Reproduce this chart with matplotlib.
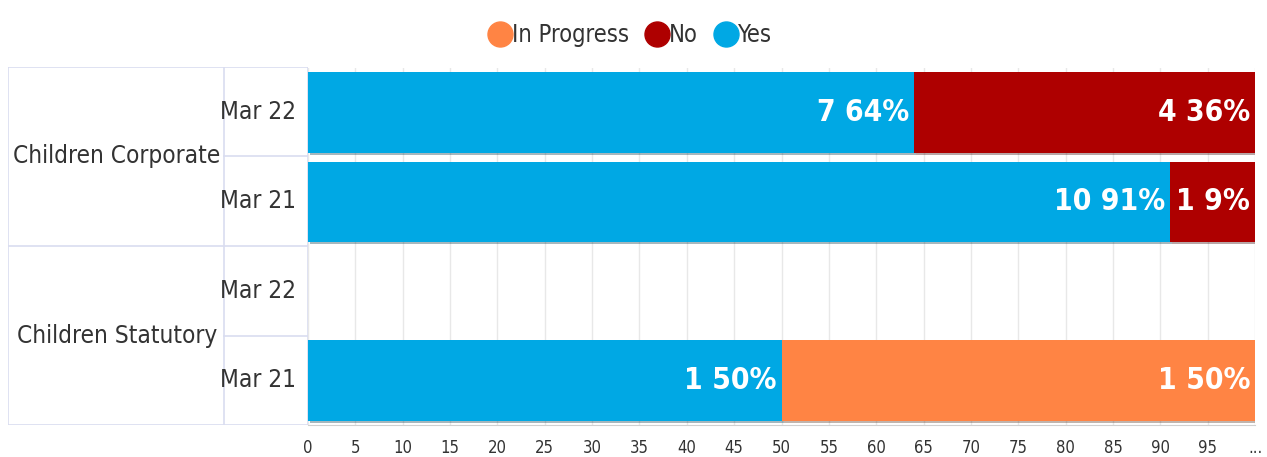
import matplotlib.pyplot as plt
import matplotlib.patheffects as pe
from matplotlib.lines import Line2D
import numpy as np

# Données
groups = ["Children Corporate", "Children Statutory"]
periods = ["Mar 22", "Mar 21", "Mar 22", "Mar 21"]
yes_pct = [64, 91, 0, 50]
yes_cnt = [7, 10, 0, 1]
no_pct = [36, 9, 0, 0]
no_cnt = [4, 1, 0, 0]
prog_pct = [0, 0, 0, 50]
prog_cnt = [0, 0, 0, 1]
xticks = list(range(0, 100, 5))

C_YES = "#00A8E4"
C_NO = "#AE0000"
C_PROG = "#FF8444"
FONT = dict(family="DejaVu Sans", stretch="condensed")

W, H = 1267, 457
fig = plt.figure(figsize=(W / 100, H / 100), dpi=100)
ax = fig.add_axes([308 / W, 1 - 425 / H, 947 / W, 357 / H])

y = np.arange(len(periods))
shadow = [pe.SimplePatchShadow(offset=(1.5, -1.5), alpha=0.35), pe.Normal()]

left = np.zeros(len(periods))
for vals, cnts, col in [(yes_pct, yes_cnt, C_YES), (no_pct, no_cnt, C_NO), (prog_pct, prog_cnt, C_PROG)]:
    bars = ax.barh(y, vals, left=left, height=0.9, color=col, zorder=3)
    for b in bars:
        b.set_path_effects(shadow)
    for i, (v, c) in enumerate(zip(vals, cnts)):
        if v > 0:
            ax.text(left[i] + v - 0.5, y[i], f"{c} {v}%", ha="right", va="center",
                    color="white", fontsize=21.5, fontweight="bold", zorder=4, **FONT)
    left += np.array(vals)

ax.set_xlim(0, 100)
ax.set_ylim(3.5, -0.5)
ax.set_xticks(xticks + [100])
ax.set_xticklabels([str(t) for t in xticks] + ["..."], fontsize=12, color="#333333", **FONT)
ax.set_yticks([])
ax.tick_params(axis="x", length=0, pad=10)
ax.grid(axis="x", color="#e8e8e8", linewidth=1, zorder=0)
for s in ["top", "right", "left"]:
    ax.spines[s].set_visible(False)
ax.spines["bottom"].set_color("#d0d0d0")

# Tableau des catégories à gauche
lab = fig.add_axes([8 / W, 1 - 425 / H, 300 / W, 358 / H])
lab.set_xlim(0, 300)
lab.set_ylim(3.5, -0.5)
lab.axis("off")
lc = "#d9ddf0"
lab.add_patch(plt.Rectangle((0, -0.5), 300, 4, fill=False, edgecolor=lc, lw=1.2))
lab.plot([216, 216], [-0.5, 3.5], color=lc, lw=1.2)
lab.plot([0, 300], [1.5, 1.5], color=lc, lw=1.2)
for yy in [0.5, 2.5]:
    lab.plot([216, 300], [yy, yy], color=lc, lw=1.2)
for i, g in enumerate(groups):
    lab.text(109, 0.5 + 2 * i, g, ha="center", va="center", fontsize=17.5, color="#333333", **FONT)
for i, p in enumerate(periods):
    lab.text(288, i, p, ha="right", va="center", fontsize=17.5, color="#333333", **FONT)

# Légende
handles = [Line2D([], [], marker="o", ls="", markersize=18, color=c) for c in [C_PROG, C_NO, C_YES]]
fig.legend(handles, ["In Progress", "No", "Yes"], loc="center", bbox_to_anchor=(624 / W, 1 - 35 / H),
           ncol=3, frameon=False, handletextpad=-0.5, columnspacing=0.2,
           prop=dict(size=17, **FONT), labelcolor="#333333")

fig.savefig("out.png", dpi=100)
